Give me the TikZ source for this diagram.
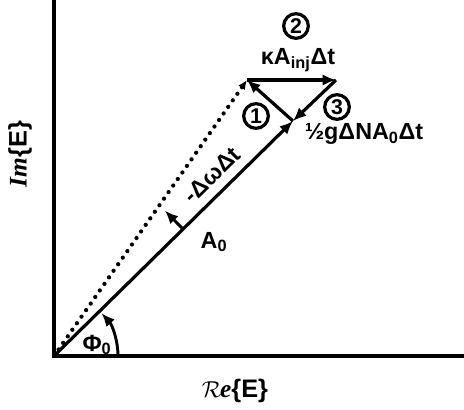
\documentclass[tikz,border=0pt]{standalone}
\usepackage{fontspec}
\setmainfont{Liberation Sans}
\newfontfamily\serifItal{Liberation Serif}
\usepackage{xcolor}
\definecolor{phaseNoir}{HTML}{000000}
\usepackage{tikz}
\usetikzlibrary{arrows.meta, calc}
\tikzset{
  %% ── Lines ────────────────────────────────────────────────────────────
  %% The axes are the heaviest stroke, the vectors a little lighter, and
  %% the rotated field is a row of round dots with a small solid head.
  axe/.style           = {draw=phaseNoir, line width=3.2pt},
  vecteur/.style       = {-{Latex[length=10pt, width=8.5pt]}, draw=phaseNoir,
                          line width=2.4pt},
  vecteurPointe/.style = {-{Latex[length=7pt, width=6pt]}, draw=phaseNoir,
                          line width=3.2pt, line cap=round,
                          dash pattern=on 0pt off 6pt},
  %%
  %% ── Text ─────────────────────────────────────────────────────────────
  etiquette/.style     = {font=\fontsize{17.5}{20}\selectfont\bfseries,
                          inner sep=0pt},
  numero/.style        = {circle, draw=phaseNoir, line width=2.4pt,
                          minimum size=18.5pt, inner sep=0pt,
                          font=\fontsize{16}{16}\selectfont\bfseries},
  titreAxe/.style      = {font=\fontsize{19}{21}\selectfont, inner sep=1pt},
}

\begin{document}
\begin{tikzpicture}[x=0.75pt, y=0.75pt]
\useasboundingbox (0,0) rectangle (464,410);

\coordinate (O) at (54,54);
\coordinate (haut) at (54,412);
\coordinate (droite) at (466,54);
\coordinate (A) at (293,289);
\coordinate (P) at (247,330);
\coordinate (K) at (336,330);

\draw[axe] (haut) -- (O) -- (droite);

\draw[vecteurPointe] (O) -- (P);
\draw[vecteur] (O) -- (A);
\draw[vecteur] (A) -- (P);
\draw[vecteur] (P) -- (K);
\draw[vecteur] (K) -- (A);

% angle of the field and the rotation step
\draw[vecteur, line width=2.2pt] (O) ++(64,0) arc[start angle=0, end angle=42, radius=48pt];
\coordinate (pied) at ($(O)!0.54!(A)$);
\coordinate (bout) at ($(pied)!19.5pt!90:(A)$);
\draw[vecteur, line width=2.2pt] (pied) -- (bout);

\node[etiquette, rotate=44.4] (domega) at (212,235) {-ΔωΔt};
\node[etiquette] (a0) at (214,168) {A\textsubscript{0}};
\node[etiquette] (phi) at (97,65) {Φ\textsubscript{0}};
\node[etiquette] (kappa) at (298,350) {κA\textsubscript{inj}Δt};
\node[etiquette] (gain) at (364,276) {½gΔNA\textsubscript{0}Δt};

\node[numero] (n1) at (256,294) {1};
\node[numero] (n2) at (296,384) {2};
\node[numero] (n3) at (337,303) {3};

\node[titreAxe, rotate=90] (im) at (20,256)
     {{\serifItal\itshape\bfseries Im}{\bfseries\{E\}}};
\node[titreAxe] (re) at (235,19)
     {$\mathcal{R}$\kern-1pt{\serifItal\itshape\bfseries e}{\bfseries\{E\}}};

\end{tikzpicture}
\end{document}
